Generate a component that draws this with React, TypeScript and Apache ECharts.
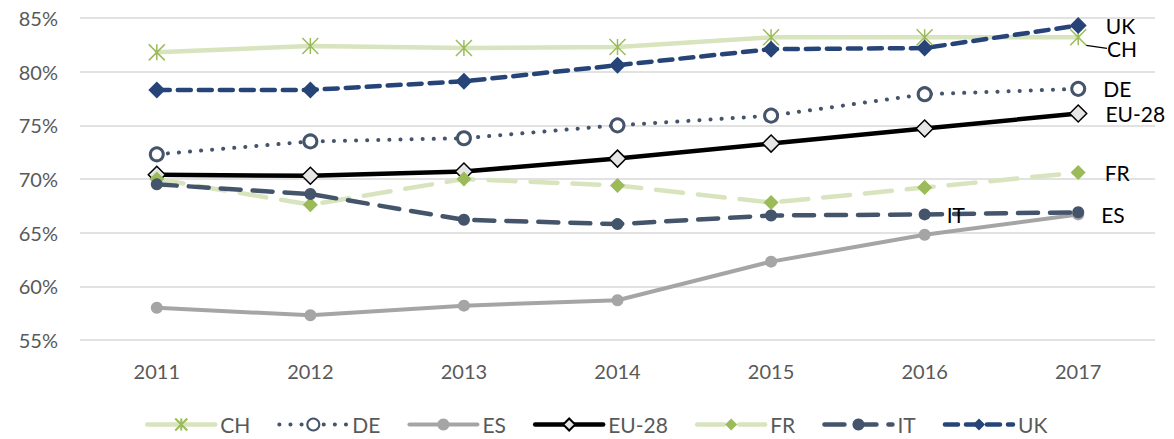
import React, { useEffect, useRef } from "react";
import * as echarts from "echarts";

const years = ["2011", "2012", "2013", "2014", "2015", "2016", "2017"];
const ch = [81.8, 82.4, 82.2, 82.3, 83.2, 83.2, 83.2];
const de = [72.3, 73.5, 73.8, 75.0, 75.9, 77.9, 78.4];
const es = [58.0, 57.3, 58.2, 58.7, 62.3, 64.8, 66.7];
const eu28 = [70.4, 70.3, 70.7, 71.9, 73.3, 74.7, 76.1];
const fr = [70.0, 67.6, 70.0, 69.4, 67.8, 69.2, 70.6];
const it = [69.5, 68.6, 66.2, 65.8, 66.6, 66.7, 66.9];
const uk = [78.3, 78.3, 79.1, 80.6, 82.1, 82.2, 84.3];

const FONT = "Lato, 'Open Sans', sans-serif";

function withLabel(values: number[], idx: number, text: string, extra: any = {}, more: any = {}) {
  return values.map((v, i) =>
    i === idx
      ? {
          value: v,
          label: {
            show: true,
            position: "right",
            distance: 18,
            formatter: text,
            color: "#000",
            fontSize: 21,
            fontFamily: FONT,
            ...extra,
          },
          ...more,
        }
      : v
  );
}

export default function App() {
  const ref = useRef<HTMLDivElement>(null);
  useEffect(() => {
    if (!ref.current) return;
    const chart = echarts.init(ref.current, undefined, { renderer: "svg" });
    chart.setOption({
      animation: false,
      backgroundColor: "#fff",
      textStyle: { fontFamily: FONT },
      grid: { left: 80, right: 19, top: 18, bottom: 99, containLabel: false },
      xAxis: {
        type: "category",
        data: years,
        boundaryGap: true,
        axisLine: { show: false },
        axisTick: { show: false },
        axisLabel: { color: "#595959", fontSize: 20, margin: 21, fontFamily: FONT },
      },
      yAxis: {
        type: "value",
        min: 55,
        max: 85,
        interval: 5,
        axisLine: { show: false },
        axisTick: { show: false },
        axisLabel: { color: "#595959", fontSize: 20, margin: 22, formatter: "{value}%", fontFamily: FONT },
        splitLine: { lineStyle: { color: "#D9D9D9", width: 1.5 } },
      },
      legend: {
        left: 140,
        top: 409,
        itemWidth: 68,
        itemHeight: 15,
        itemGap: 27,
        lineStyle: { width: "inherit" },
        textStyle: { color: "#595959", fontSize: 21, fontFamily: FONT },
        data: ["CH", "DE", "ES", "EU-28", "FR", "IT", "UK"],
      },
      series: [
        {
          name: "CH",
          type: "line",
          data: withLabel(ch, 6, "CH", { distance: 20 }, {
            labelLine: { show: true, lineStyle: { color: "#000", width: 1.2 } },
          }),
          labelLayout: { dy: 11 },
          labelLine: { show: true, lineStyle: { color: "#000", width: 1.2 } },
          symbol: "path://M0,0L20,20M20,0L0,20M10,0L10,20",
          symbolSize: 16,
          lineStyle: { color: "#D7E4BD", width: 4.5, cap: "round" },
          itemStyle: { color: "#9BBB59", borderColor: "#9BBB59", borderWidth: 1.5 },
        },
        {
          name: "DE",
          type: "line",
          data: withLabel(de, 6, "DE", { distance: 17 }),
          symbol: "circle",
          symbolSize: 13,
          lineStyle: { color: "#44546A", width: 4, type: [0.1, 11], cap: "round" },
          itemStyle: { color: "#fff", borderColor: "#44546A", borderWidth: 3 },
        },
        {
          name: "ES",
          type: "line",
          data: withLabel(es, 6, "ES", { distance: 17 }),
          symbol: "circle",
          symbolSize: 12,
          lineStyle: { color: "#A5A5A5", width: 4, cap: "round" },
          itemStyle: { color: "#A5A5A5" },
        },
        {
          name: "EU-28",
          type: "line",
          data: withLabel(eu28, 6, "EU-28"),
          symbol: "diamond",
          symbolSize: 17,
          lineStyle: { color: "#000", width: 4.5, cap: "round" },
          itemStyle: { color: "#E7E6E6", borderColor: "#000", borderWidth: 1.5 },
        },
        {
          name: "FR",
          type: "line",
          data: withLabel(fr, 6, "FR", { distance: 19 }),
          symbol: "diamond",
          symbolSize: 15,
          lineStyle: { color: "#D7E4BD", width: 4.5, type: [27, 15], cap: "round" },
          itemStyle: { color: "#9BBB59" },
        },
        {
          name: "IT",
          type: "line",
          data: withLabel(it, 5, "IT", { distance: 16 }),
          symbol: "circle",
          symbolSize: 12,
          lineStyle: { color: "#44546A", width: 4.5, type: [20, 12], cap: "round" },
          itemStyle: { color: "#44546A" },
        },
        {
          name: "UK",
          type: "line",
          data: withLabel(uk, 6, "UK", { distance: 19 }),
          symbol: "diamond",
          symbolSize: 17,
          lineStyle: { color: "#264478", width: 4.5, type: [13, 8], cap: "round" },
          itemStyle: { color: "#264478" },
        },
      ],
    });
    return () => chart.dispose();
  }, []);
  return (
    <div
      ref={ref}
      style={{ position: "fixed", left: 0, top: 0, width: 1174, height: 439 }}
    />
  );
}
